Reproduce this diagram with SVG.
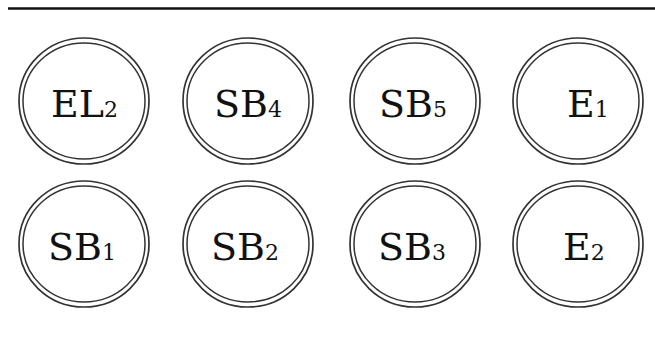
<svg xmlns="http://www.w3.org/2000/svg" width="655" height="338" viewBox="0 0 655 338">
<style>
.o{fill:none;stroke:#333;stroke-width:1.7}
.i{fill:none;stroke:#333;stroke-width:1.5}
.t{font-family:"DejaVu Serif","Liberation Serif",serif;font-size:38px;fill:#111}
.s{font-size:22px}
</style>
<rect width="655" height="338" fill="#fff"/>
<line x1="8" y1="8.5" x2="655" y2="8.5" stroke="#111" stroke-width="2.5"/>
<g id="EL2"><ellipse class="o" cx="84" cy="101" rx="65" ry="63"/><ellipse class="i" cx="84" cy="101" rx="61" ry="58"/><text class="t" x="51" y="117">EL<tspan class="s">2</tspan></text></g>
<g id="SB4"><ellipse class="o" cx="248" cy="101" rx="65" ry="63"/><ellipse class="i" cx="248" cy="101" rx="61" ry="58"/><text class="t" x="214" y="117">SB<tspan class="s">4</tspan></text></g>
<g id="SB5"><ellipse class="o" cx="415" cy="101" rx="65" ry="63"/><ellipse class="i" cx="415" cy="101" rx="61" ry="58"/><text class="t" x="379" y="117">SB<tspan class="s">5</tspan></text></g>
<g id="E1"><ellipse class="o" cx="578" cy="101" rx="65" ry="63"/><ellipse class="i" cx="578" cy="101" rx="61" ry="58"/><text class="t" x="567" y="117">E<tspan class="s">1</tspan></text></g>
<g id="SB1"><ellipse class="o" cx="84" cy="244" rx="65" ry="63"/><ellipse class="i" cx="84" cy="244" rx="61" ry="58"/><text class="t" x="48" y="260">SB<tspan class="s">1</tspan></text></g>
<g id="SB2"><ellipse class="o" cx="248" cy="244" rx="65" ry="63"/><ellipse class="i" cx="248" cy="244" rx="61" ry="58"/><text class="t" x="211" y="260">SB<tspan class="s">2</tspan></text></g>
<g id="SB3"><ellipse class="o" cx="415" cy="244" rx="65" ry="63"/><ellipse class="i" cx="415" cy="244" rx="61" ry="58"/><text class="t" x="378" y="260">SB<tspan class="s">3</tspan></text></g>
<g id="E2"><ellipse class="o" cx="578" cy="244" rx="65" ry="63"/><ellipse class="i" cx="578" cy="244" rx="61" ry="58"/><text class="t" x="563" y="260">E<tspan class="s">2</tspan></text></g>
<g id="connectors"></g>
</svg>
